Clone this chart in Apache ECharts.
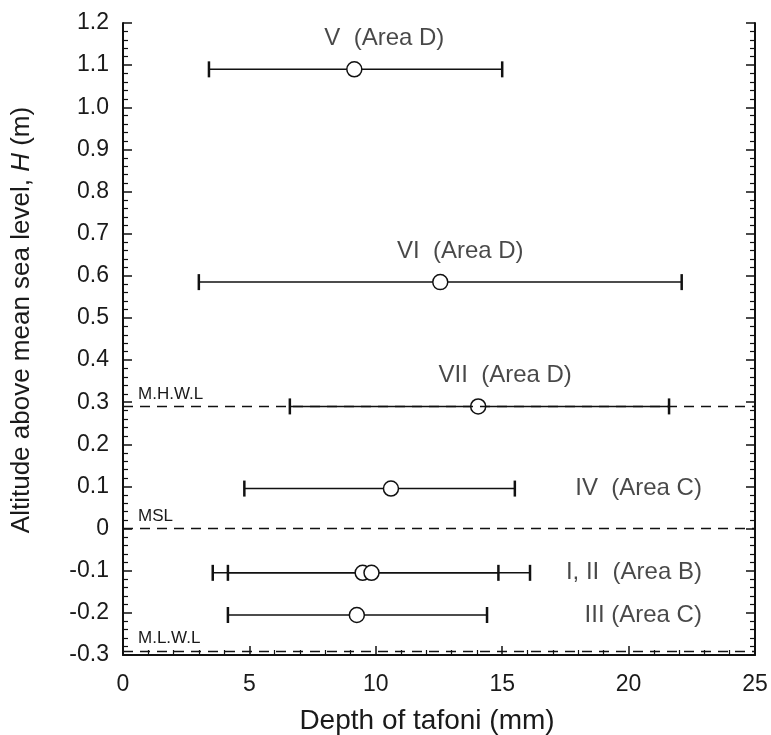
<!DOCTYPE html>
<html>
<head>
<meta charset="utf-8">
<script src="https://cdn.jsdelivr.net/npm/echarts@6/dist/echarts.min.js"></script>
<style>html,body{margin:0;padding:0;background:#fff}#main{width:771px;height:735px}</style>
</head>
<body>
<div id="main"></div>
<script>
// tafoni sites: altitude H (m) and depth (mm) mean / min / max
var sites = ['V', 'VI', 'VII', 'IV', 'I', 'II', 'III'];
var altitude = [1.09, 0.585, 0.29, 0.095, -0.105, -0.105, -0.205];
var meanDepth = [9.15, 12.55, 14.05, 10.6, 9.48, 9.83, 9.25];
var minDepth = [3.4, 3.0, 6.6, 4.8, 3.55, 4.15, 4.15];
var maxDepth = [15.0, 22.1, 21.6, 15.5, 14.85, 16.1, 14.4];
var siteLabels = ['V  (Area D)', 'VI  (Area D)', 'VII  (Area D)', 'IV  (Area C)', 'I, II  (Area B)', '', 'III (Area C)'];
var levelValues = [0.29, 0, -0.29];
var levelNames = ['M.H.W.L', 'MSL', 'M.L.W.L'];

var font = 'Liberation Sans, Arial, sans-serif';
var chart = echarts.init(document.getElementById('main'));

var barData = sites.map(function (s, i) { return [altitude[i], minDepth[i], maxDepth[i]]; });
var pointData = sites.map(function (s, i) { return [meanDepth[i], altitude[i]]; });

// which labels sit above the point (with x shift in px) and which at the right edge
var topLabel = { 0: 30, 1: 20, 2: 27 };
var rightX = 22.9;

var aboveLabels = [], rightLabels = [];
sites.forEach(function (s, i) {
    if (!siteLabels[i]) return;
    if (topLabel[i] !== undefined) {
        aboveLabels.push({ value: [meanDepth[i], altitude[i]], label: { offset: [topLabel[i], 0] }, name: siteLabels[i] });
    } else {
        rightLabels.push({ value: [rightX, altitude[i]], name: siteLabels[i] });
    }
});

var tickLabel = { fontFamily: font, fontSize: 23, color: '#1a1a1a' };

var option = {
    animation: false,
    grid: { left: 123, right: 16, top: 23, bottom: 80, containLabel: false, outerBoundsMode: 'none' },
    xAxis: {
        type: 'value', min: 0, max: 25, interval: 5,
        name: 'Depth of tafoni (mm)', nameLocation: 'middle', nameGap: 52,
        nameTextStyle: { fontFamily: font, fontSize: 28, color: '#1a1a1a', padding: [0, 24, 0, 0] },
        axisLine: { onZero: false, lineStyle: { color: '#111', width: 2 } },
        axisTick: { inside: true, length: 9, lineStyle: { color: '#111', width: 1.5 } },
        minorTick: { show: true, splitNumber: 5, length: 5, lineStyle: { color: '#111', width: 1.2 } },
        axisLabel: Object.assign({ margin: 18 }, tickLabel),
        splitLine: { show: false }
    },
    yAxis: [{
        type: 'value', min: -0.3, max: 1.2, interval: 0.1,
        name: '{n|Altitude above mean sea level, }{i|H}{n| (m)}', nameLocation: 'middle', nameGap: 88, nameRotate: 90,
        nameTextStyle: { padding: [0, 0, 0, 38], rich: {
            n: { fontFamily: font, fontSize: 26, color: '#1a1a1a' },
            i: { fontFamily: font, fontSize: 26, color: '#1a1a1a', fontStyle: 'italic' }
        } },
        axisLine: { lineStyle: { color: '#111', width: 2 } },
        axisTick: { inside: true, length: 9, lineStyle: { color: '#111', width: 1.5 } },
        minorTick: { show: true, splitNumber: 5, length: 5, lineStyle: { color: '#111', width: 1.2 } },
        axisLabel: Object.assign({ margin: 14, formatter: function (v) {
            var r = Math.round(v * 10) / 10;
            return r === 0 ? '0' : r.toFixed(1);
        } }, tickLabel),
        splitLine: { show: false }
    }, {
        type: 'value', min: -0.3, max: 1.2, interval: 0.1, position: 'right',
        axisLine: { show: true, lineStyle: { color: '#111', width: 2 } },
        axisTick: { show: true, inside: true, length: 9, lineStyle: { color: '#111', width: 1.5 } },
        minorTick: { show: true, splitNumber: 5, length: 5, lineStyle: { color: '#111', width: 1.2 } },
        axisLabel: { show: false },
        splitLine: { show: false }
    }],
    series: [{
        type: 'custom',
        data: barData,
        encode: { x: [1, 2], y: 0 },
        markLine: {
            silent: true, symbol: 'none',
            lineStyle: { color: '#111', type: [10, 7], width: 1.3 },
            label: { position: 'insideStartTop', distance: [15, 4], fontFamily: font, fontSize: 17, color: '#1a1a1a',
                     formatter: function (p) { return p.name; } },
            data: levelValues.map(function (v, i) { return { yAxis: v, name: levelNames[i] }; })
        },
        renderItem: function (params, api) {
            var y = api.value(0);
            var a = api.coord([api.value(1), y]);
            var b = api.coord([api.value(2), y]);
            var h = 8;
            var st = { stroke: '#111', lineWidth: 1.5 };
            return { type: 'group', children: [
                { type: 'line', shape: { x1: a[0], y1: a[1], x2: b[0], y2: b[1] }, style: st },
                { type: 'line', shape: { x1: a[0], y1: a[1] - h, x2: a[0], y2: a[1] + h }, style: { stroke: '#111', lineWidth: 2.5 } },
                { type: 'line', shape: { x1: b[0], y1: b[1] - h, x2: b[0], y2: b[1] + h }, style: { stroke: '#111', lineWidth: 2.5 } }
            ] };
        },
        z: 2
    }, {
        type: 'scatter',
        data: pointData,
        symbol: 'circle', symbolSize: 15,
        itemStyle: { color: '#fff', borderColor: '#111', borderWidth: 1.5, opacity: 1 },
        z: 3
    }, {
        type: 'scatter',
        data: aboveLabels,
        symbolSize: 0,
        label: { show: true, position: 'top', distance: 19, fontFamily: font, fontSize: 24, color: '#1a1a1a',
                 formatter: function (p) { return p.name; } },
        z: 4
    }, {
        type: 'scatter',
        data: rightLabels,
        symbolSize: 0,
        label: { show: true, position: 'left', distance: 0, fontFamily: font, fontSize: 24, color: '#1a1a1a',
                 formatter: function (p) { return p.name; } },
        z: 4
    }]
};
chart.setOption(option);
</script>
</body>
</html>
